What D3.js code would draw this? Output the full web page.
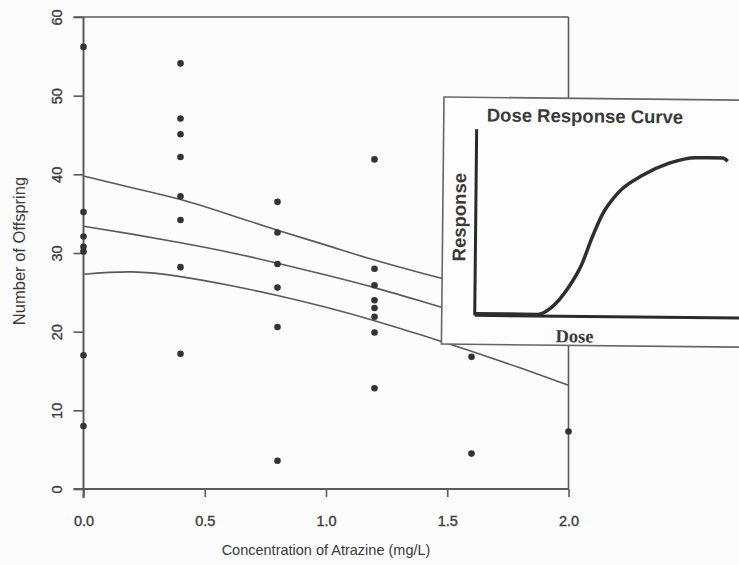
<!DOCTYPE html>
<html>
<head>
<meta charset="utf-8">
<script src="https://cdn.jsdelivr.net/npm/d3@7"></script>
<style>
  body { margin: 0; background: #fcfcfc; }
  svg { display: block; }
  text { font-family: "Liberation Sans", Arial, sans-serif; fill: #3a3a3a; }
</style>
</head>
<body>
<div id="viz"></div>
<script>
// observed data: atrazine concentration (mg/L) vs number of offspring
let conc0   = [56.2, 35.2, 32.1, 30.8, 30.2, 17.0, 8.0];
let conc04  = [54.1, 47.1, 45.1, 42.2, 37.2, 34.2, 28.2, 17.2];
let conc08  = [36.5, 32.6, 28.6, 25.6, 20.6, 3.6];
let conc12  = [41.9, 28.0, 25.9, 24.0, 23.0, 21.9, 19.9, 12.8];
let conc16  = [16.8, 4.5];
let conc20  = [7.3];
let concLevels = [0, 0.4, 0.8, 1.2, 1.6, 2.0];

// fitted line and confidence band
let fitX     = [0, 0.2, 0.4, 0.6, 0.8, 1.0, 1.2, 1.4, 1.6, 1.8, 2.0];
let fitMid   = [33.4, 32.4, 31.3, 30.1, 28.7, 27.2, 25.6, 23.8, 22.0, 20.4, 19.0];
let fitUpper = [39.8, 38.3, 36.8, 34.9, 32.9, 31.0, 29.1, 27.4, 25.8, 24.3, 22.8];
let fitLower = [27.3, 27.6, 27.0, 25.9, 24.6, 23.1, 21.4, 19.5, 17.5, 15.4, 13.2];

let xTicks = [0, 0.5, 1.0, 1.5, 2.0];
let yTicks = [0, 10, 20, 30, 40, 50, 60];

// inset: generic dose response curve
let doseX     = [0, 2.42, 2.93, 3.58, 4.09, 4.47, 4.86, 5.5, 6.4, 7.42, 8.45, 9.47, 9.67];
let responseY = [0.01, 0.01, 0.052, 0.177, 0.323, 0.489, 0.636, 0.781, 0.886, 0.964, 1.0, 1.0, 0.98];

let width = 739, height = 565;

let svg = d3.select("#viz")
  .append("svg")
    .attr("width", width)
    .attr("height", height);

let xScale = d3.scaleLinear().domain([0, 2]).range([83.5, 568.5]);
let yScale = d3.scaleLinear().domain([0, 60]).range([489, 17]);

let lineColor = "#5a5a5a";

// frame: top and right edges of the plot box
svg.append("line")
  .attr("x1", xScale(0) - 10).attr("x2", xScale(2))
  .attr("y1", yScale(60)).attr("y2", yScale(60))
  .attr("stroke", lineColor).attr("stroke-width", 1.6);
svg.append("line")
  .attr("x1", xScale(2)).attr("x2", xScale(2))
  .attr("y1", yScale(60)).attr("y2", yScale(0))
  .attr("stroke", lineColor).attr("stroke-width", 1.6);

// x axis
let xAxisG = svg.append("g")
  .attr("transform", "translate(0," + yScale(0) + ")")
  .call(d3.axisBottom(xScale)
    .tickValues(xTicks)
    .tickFormat(d3.format(".1f"))
    .tickSize(8)
    .tickPadding(19)
  );

// y axis
let yAxisG = svg.append("g")
  .attr("transform", "translate(" + xScale(0) + ",0)")
  .call(d3.axisLeft(yScale)
    .tickValues(yTicks)
    .tickSize(10)
  );

// extend axis lines a bit past the corner, like in the original
xAxisG.select(".domain").remove();
yAxisG.select(".domain").remove();
xAxisG.append("line")
  .attr("x1", xScale(0) - 10).attr("x2", xScale(2))
  .attr("stroke", lineColor).attr("stroke-width", 2);
yAxisG.append("line")
  .attr("y1", yScale(60)).attr("y2", yScale(0) + 9)
  .attr("stroke", lineColor).attr("stroke-width", 2);

[xAxisG, yAxisG].forEach(g => {
  g.selectAll(".tick line").attr("stroke", lineColor).attr("stroke-width", 1.6);
  g.selectAll(".tick text")
    .style("font-family", "'Liberation Sans', Arial, sans-serif")
    .style("font-size", "14.5px")
    .attr("fill", "#3a3a3a")
    .attr("stroke", "#3a3a3a")
    .attr("stroke-width", 0.35);
});

// y tick labels are rotated
yAxisG.selectAll(".tick text")
  .attr("x", null).attr("dy", null)
  .attr("text-anchor", "middle")
  .attr("transform", "translate(-22,0) rotate(-90)");

// axis labels
svg.append("text")
  .attr("x", 326).attr("y", 555)
  .attr("text-anchor", "middle")
  .style("font-size", "14.5px")
  .text("Concentration of Atrazine (mg/L)");

svg.append("text")
  .attr("text-anchor", "middle")
  .attr("transform", "translate(25,251) rotate(-90)")
  .style("font-size", "16.5px")
  .text("Number of Offspring");

// fitted curves
let fitLine = d3.line()
  .x(d => xScale(d[0]))
  .y(d => yScale(d[1]))
  .curve(d3.curveNatural);

[fitUpper, fitMid, fitLower].forEach(series => {
  svg.append("path")
    .datum(fitX.map((x, i) => [x, series[i]]))
    .attr("d", fitLine)
    .attr("fill", "none")
    .attr("stroke", lineColor)
    .attr("stroke-width", 1.6);
});

// data points
let groups = [conc0, conc04, conc08, conc12, conc16, conc20];
let points = [];
groups.forEach((vals, i) => vals.forEach(v => points.push({conc: concLevels[i], offspring: v})));

svg.append("g")
  .attr("class", "scatter-plot")
  .selectAll("circle")
  .data(points)
  .enter()
    .append("circle")
      .attr("cx", d => xScale(d.conc))
      .attr("cy", d => yScale(d.offspring))
      .attr("r", 3.3)
      .attr("fill", "#333");

// inset box with a schematic dose response curve (slightly tilted, as pasted in)
let inset = svg.append("g")
  .attr("class", "inset")
  .attr("transform", "rotate(0.6,444,97)");

inset.append("rect")
  .attr("x", 444).attr("y", 97)
  .attr("width", 320).attr("height", 247)
  .attr("fill", "#fdfdfd")
  .attr("stroke", "#666")
  .attr("stroke-width", 1.6);

let doseScale = d3.scaleLinear().domain([0, 10]).range([477, 737]);
let respScale = d3.scaleLinear().domain([0, 1]).range([315, 155]);

inset.append("line")
  .attr("x1", doseScale(0)).attr("x2", doseScale(0))
  .attr("y1", 129).attr("y2", respScale(0))
  .attr("stroke", "#2a2a2a").attr("stroke-width", 3);
inset.append("line")
  .attr("x1", doseScale(0)).attr("x2", 760)
  .attr("y1", respScale(0)).attr("y2", respScale(0))
  .attr("stroke", "#2a2a2a").attr("stroke-width", 3);

inset.append("path")
  .datum(doseX.map((x, i) => [x, responseY[i]]))
  .attr("d", d3.line()
    .x(d => doseScale(d[0]))
    .y(d => respScale(d[1]))
    .curve(d3.curveMonotoneX))
  .attr("fill", "none")
  .attr("stroke", "#2e2e2e")
  .attr("stroke-width", 3.5)
  .attr("stroke-linejoin", "round");

inset.append("text")
  .attr("x", 487).attr("y", 121)
  .style("font-size", "18.5px")
  .style("font-weight", "bold")
  .attr("fill", "#2a2a2a")
  .text("Dose Response Curve");

inset.append("text")
  .attr("text-anchor", "middle")
  .attr("transform", "translate(467,217) rotate(-90)")
  .style("font-size", "18.5px")
  .style("font-weight", "bold")
  .attr("fill", "#2a2a2a")
  .text("Response");

inset.append("text")
  .attr("x", 577).attr("y", 341)
  .attr("text-anchor", "middle")
  .style("font-family", "'Liberation Serif', 'Times New Roman', serif")
  .style("font-size", "18.5px")
  .style("font-weight", "bold")
  .attr("fill", "#2a2a2a")
  .text("Dose");
</script>
</body>
</html>
